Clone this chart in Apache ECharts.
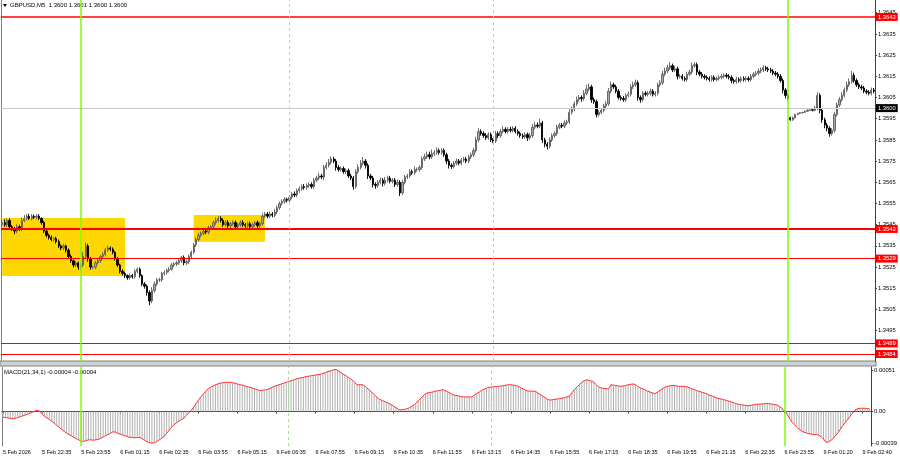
<!DOCTYPE html>
<html><head><meta charset="utf-8">
<script src="https://cdn.jsdelivr.net/npm/echarts@6/dist/echarts.min.js"></script>
<style>html,body{margin:0;padding:0;background:#fff}#c{width:900px;height:460px}</style>
</head><body><div id="c"></div>
<script>
// Prices are stored in pips above 1.3500 (value 46 -> 1.35460)
const BASE = 1.35;
const closes = [
46,45,47,44,43,42,44,43,47,48,
49,48,49,48.5,49,48,46,42,40,39,
38,38.5,37,35,34,35,33,30,28,26,
27,25,26,30,35,29,25,25,27,28,
30,31,33,34,33.5,32,29,26,23,22,
21,20,21,20.5,23,24,21,17,16,13,
9,14,17,19,19,22,22.5,23.5,24,26,
26.5,27,28,29.5,27,27.5,30,32,35.5,38,
40,41,42,41.5,43.5,44,46,47,48,47,
45,46,44.5,45.5,46,44,45,46,45,44.5,
45.5,44,45,46,44.5,45.5,49,50,49,50,
49.5,51,53,55,56,57,56.5,58,59.5,59,
61,62,63,62.5,63.5,64,63,66,67,68,
67.5,72,73,74.5,76,75,72,71,71.5,70,
70.5,68,67,63,70,72,74,75,73,68,
67,64,63.5,65,66,64.5,66,67,65.5,66,
64,65,60,65,67.5,68,70,69.5,71,71,
72,76,77,78,77,78.5,79,80,79,80,
78,75,73,72.5,74,75,74,75.5,76,75,
77,78,80,85,89,88,87,86,87.5,85,
84.5,88,87,89,90,89,90,89.5,90.5,89,
88,87,86.5,87.5,86,87,91,92,91.5,93,
85,83,82,85,87,88,91,92,91.5,93,
93.5,98,99.5,102,104,105,104.5,107,109,110,
104,103,97,98,99,101,102,108,111,110,
108,105,104.5,104,106,106.5,110,111,112,105,
104,107,106.5,107,108,106.5,107,111,112,116,
117.5,119,120,118,118.5,115,115,114,113.5,116,
117,120,120.5,117,116,115,114.5,114,113.5,114.5,
113.5,114,114.5,115,115.5,115,114.5,113,112.5,113.5,
113,114,113.5,114,113.5,115,116,116.5,117.5,118,
119,118.5,118,117.5,116.5,116,115,113,108.5,106,
104.5,94.5,95.5,97,97.5,97.8,98,98.5,99,99.2,
99,100,106,99,94.5,92,90.5,88,89.5,97,
101.5,104,106,108.5,111,112.5,115.5,113,111,110,
109.5,108,107.5,107,108.5,108];
const opens = [
45,46,45,47,44,43,42,44,43,47,
48,49,48,49,48.5,49,48,46,42,40,
39,38,38.5,37,35,34,35,33,30,28,
26,27,25,26,30,35,29,25,25,27,
28,30,31,33,34,33.5,32,29,26,23,
22,21,20,21,20.5,23,24,21,17,16,
13,9,14,17,19,19,22,22.5,23.5,24,
26,26.5,27,28,29.5,27,27.5,30,32,35.5,
38,40,41,42,41.5,43.5,44,46,47,48,
47,45,46,44.5,45.5,46,44,45,46,45,
44.5,45.5,44,45,46,44.5,45.5,49,50,49,
50,49.5,51,53,55,56,57,56.5,58,59.5,
59,61,62,63,62.5,63.5,64,63,66,67,
68,67.5,72,73,74.5,76,75,72,71,71.5,
70,70.5,68,67,63,70,72,74,75,73,
68,67,64,63.5,65,66,64.5,66,67,65.5,
66,64,65,60,65,67.5,68,70,69.5,71,
71,72,76,77,78,77,78.5,79,80,79,
80,78,75,73,72.5,74,75,74,75.5,76,
75,77,78,80,85,89,88,87,86,87.5,
85,84.5,88,87,89,90,89,90,89.5,90.5,
89,88,87,86.5,87.5,86,87,91,92,91.5,
93,85,83,82,85,87,88,91,92,91.5,
93,93.5,98,99.5,102,104,105,104.5,107,109,
110,104,103,97,98,99,101,102,108,111,
110,108,105,104.5,104,106,106.5,110,111,112,
105,104,107,106.5,107,108,106.5,107,111,112,
116,117.5,119,120,118,118.5,115,115,114,113.5,
116,117,120,120.5,117,116,115,114.5,114,113.5,
114.5,113.5,114,114.5,115,115.5,115,114.5,113,112.5,
113.5,113,114,113.5,114,113.5,115,116,116.5,117.5,
118,119,118.5,118,117.5,116.5,116,115,113,108.5,
106,95.5,94.5,95.5,97,97.5,97.8,98,98.5,99,
99.2,99,100,106,99,94.5,92,90.5,88,89.5,
97,101.5,104,106,108.5,111,112.5,115.5,113,111,
110,109.5,108,107.5,107,108.5];
// wick lengths above / below the body, in pips
const upperWicks = [
1,1.5,1,1,0.8,1,1.2,1,1.5,1.5,
1,1.2,1,0.8,1,1,0.5,0.8,1,0.8,
1,0.6,0.8,1,0.7,1,0.6,0.8,1,0.6,
0.8,0.6,1,2,1.5,1,0.8,0.6,1,1,
0.8,1,1,1.2,0.8,0.8,0.6,0.8,0.6,1,
0.8,0.6,1,0.8,1,0.8,0.8,0.6,1,0.8,
1,1.5,1.2,0.8,1,0.8,1,0.8,1,1,
0.8,1,1,0.8,1,1,1,0.8,1,1,
1.2,0.8,1,1,1,0.8,1,1.5,1,1,
1,1,1.2,0.8,1,1,0.8,1,1.2,0.8,
1,1,1,0.8,1,1,1.5,1,1,1.2,
1,1.5,1,1,1,1,0.8,1,1,1.2,
1,1,1,1.2,1,1,1,1,1,1.5,
1,1.2,1.5,1.5,1.2,1,1,1.2,1,1,
1,1,1,1,1.2,1.5,1.5,2,1,1,
1,1,1,1,1.2,1,1.5,1.2,1,1,
1,1.2,1,1.2,1,1,1.2,1,1.5,1,
1,1.2,1.5,1.5,1.5,2,1.2,1.5,1,1,
1,1,1,1,1,1.2,1,1,1,1,
1,1,1.2,1.5,1.5,1,1,1.2,1,1,
1,1.2,1,1.2,1.5,1,1,1.2,1,1,
1,1,1,1,1,1.2,1.5,1.5,1.2,2,
1,1,1,1.2,1,1,1.2,1,1,1.2,
1,1.5,1.2,1.2,1.5,1.2,1,1.5,2,1.5,
1,1,1,1,1,1,1.5,1.5,1.5,1,
1,1,1,1.2,1,1.2,1.2,1.5,1.5,1,
1,1,1,1,1.2,1,1,1,1.2,1.5,
1.5,1.5,1.8,1,1.5,1,1,1,1,1.2,
1.2,1.5,1.2,1,1,1,1,1,1,1,
1,1,1,1,1,1,1,1,1,1.2,
1,1,1,1,1,1,1,1,1.2,1.2,
1.2,1,1,1,1,1,1,1,1,1,
1,0.5,0.5,0.5,0.3,0.3,0.3,0.3,0.3,0.3,
0.5,1,1.5,1,1,1,1,1,1,1.2,
1.2,1.2,1.5,1.2,1.5,1.5,2,1.2,1,1,
1,1,1,1,1.2,1];
const lowerWicks = [
1,1,1.2,1,1,1.5,1,1,1,0.8,
1,0.8,1,0.8,1,0.8,1,1,1,1,
0.8,1,1,1,1,1,1.2,1,1,1.2,
1,1.2,1.5,1,1,1.5,1.2,1,1,0.8,
1,0.8,1,0.8,1,1,1,1,1,1,
1.2,1,1,1,1,1,1,1,1.2,1.5,
2,1,1,1,1,1,1,1,1,0.8,
1,1,1,1,1.2,1,1,1,0.8,1,
1,1,1,1,1,1,0.8,1,1,1,
1,1,1,1.2,1,1,1,1,1.2,1,
1,1.2,1,1,1,1.5,1,1,1,1,
1,1,1,1,1,1,1,1,1,1,
1,1,1,1,1,1,1,1,1,1,
1,1.5,1,1,1,1,1.5,1,1,1,
1,1,1,1.5,1,1,1,1,1.5,1.5,
1,1.5,1.5,1,1,1.5,1,1,1,1,
1.2,1,1.5,1,1,1,1,1,1,1,
1,1,1,1,1.2,1,1,1,1,1,
1,1.5,1.5,1.2,1,1,1,1,1,1,
1,1,1,1,1,1,1,1,1,1,
1,1,1.2,1,1,1,1,1,1,1,
1,1,1,1,1.5,1,1,1,1,1,
1.5,1.5,1.5,1,1,1,1,1,1,1,
1,1,1,1,1,1,1.5,1,1,1,
1.5,1,1.5,1,1,1,1,1,1,1,
1,1,1,1,1,1,1,1,1,1.5,
1.5,1,1,1,1,1,1,1,1,1,
1,1,1,1,1,1.5,1,1,1,1,
1,1,1,1.5,1,1,1,1,1,1,
1,1,1,1,1,1,1,1.2,1,1,
1,1,1,1,1,1,1,1,1,1,
1,1,1,1,1,1,1,1,1.5,1.5,
1,0.5,0.5,0.5,0.3,0.3,0.3,0.3,0.3,0.3,
0.5,0.5,1,1.5,1.5,1.5,1.5,1.5,1,1,
1,1,1,1,1,1,1,1,1,1,
1,1,1,1,1,1];
// MACD(21,34,1) main value per bar, in units of 0.0001
const macd = [
-0.7,-0.75,-0.8,-0.85,-0.9,-0.85,-0.75,-0.65,-0.55,-0.45,
-0.35,-0.25,-0.1,0.05,0.15,0.05,-0.3,-0.6,-0.8,-1.0,
-1.2,-1.45,-1.7,-1.95,-2.2,-2.45,-2.65,-2.85,-3.0,-3.2,
-3.35,-3.5,-3.65,-3.7,-3.6,-3.5,-3.5,-3.55,-3.5,-3.45,
-3.3,-3.15,-3.0,-2.85,-2.7,-2.5,-2.55,-2.7,-2.8,-2.9,
-3.0,-3.1,-3.2,-3.2,-3.25,-3.2,-3.2,-3.35,-3.55,-3.75,
-3.85,-3.9,-3.85,-3.7,-3.5,-3.3,-3.1,-2.7,-2.35,-1.95,
-1.65,-1.4,-1.2,-1.0,-0.85,-0.5,-0.2,0.1,0.5,0.95,
1.4,1.8,2.15,2.5,2.8,3.0,3.15,3.3,3.4,3.5,
3.55,3.6,3.6,3.6,3.55,3.5,3.4,3.3,3.25,3.15,
3.05,3.0,2.9,2.8,2.7,2.6,2.6,2.65,2.7,2.8,
2.95,3.1,3.2,3.3,3.4,3.5,3.6,3.7,3.8,3.9,
4.0,4.1,4.15,4.2,4.3,4.35,4.4,4.45,4.5,4.55,
4.6,4.7,4.8,4.9,5.0,5.1,5.2,5.1,4.9,4.7,
4.5,4.3,4.1,3.9,3.6,3.3,3.3,3.3,3.2,2.9,
2.65,2.4,2.1,1.8,1.5,1.4,1.25,1.15,1.0,0.85,
0.65,0.45,0.25,0.2,0.25,0.3,0.4,0.55,0.75,1.0,
1.3,1.6,1.9,2.2,2.3,2.35,2.4,2.5,2.55,2.6,
2.7,2.6,2.45,2.3,2.1,2.0,1.95,1.9,1.8,1.8,
1.8,1.8,1.8,2.0,2.2,2.4,2.6,2.75,2.85,3.0,
3.0,3.05,3.1,3.1,3.15,3.2,3.25,3.3,3.3,3.25,
3.2,3.1,2.95,2.8,2.6,2.55,2.5,2.5,2.5,2.3,
2.1,1.9,1.7,1.5,1.4,1.45,1.5,1.55,1.6,1.65,
1.7,1.8,1.9,2.3,2.7,3.0,3.3,3.6,3.8,3.9,
3.85,3.75,3.6,3.3,3.0,2.9,2.85,2.8,2.8,3.3,
3.25,3.2,3.15,3.1,3.15,3.2,3.3,3.35,3.4,3.3,
3.1,2.9,2.8,2.65,2.5,2.4,2.3,2.2,2.4,2.6,
2.8,3.0,3.1,3.15,3.2,3.2,3.15,3.1,3.1,3.1,
3.05,2.95,2.8,2.7,2.6,2.5,2.4,2.3,2.2,2.05,
1.95,1.85,1.7,1.6,1.55,1.45,1.4,1.3,1.2,1.1,
1.0,0.9,0.85,0.8,0.75,0.7,0.75,0.8,0.85,0.9,
0.9,0.95,0.95,1.0,0.95,0.9,0.85,0.8,0.6,0.4,
0.1,-0.3,-0.8,-1.3,-1.6,-1.9,-2.2,-2.4,-2.55,-2.65,
-2.75,-2.8,-2.85,-2.85,-2.9,-3.1,-3.4,-3.8,-3.75,-3.6,
-3.3,-2.95,-2.6,-2.15,-1.7,-1.3,-0.95,-0.55,-0.2,0.2,
0.35,0.4,0.4,0.4,0.35,0.3];
// time labels, one every 16 bars
const timeLabels = ['5 Feb 2026','5 Feb 22:35','5 Feb 23:55','6 Feb 01:15','6 Feb 02:35','6 Feb 03:55','6 Feb 05:15','6 Feb 06:35','6 Feb 07:55','6 Feb 09:15','6 Feb 10:35','6 Feb 11:55','6 Feb 13:15','6 Feb 14:35','6 Feb 15:55','6 Feb 17:15','6 Feb 18:35','6 Feb 19:55','6 Feb 21:15','6 Feb 22:35','6 Feb 23:55','9 Feb 01:20','9 Feb 02:40'];
const LABEL_STEP = 16;
const priceTicks = [1.3495,1.3505,1.3515,1.3525,1.3535,1.3545,1.3555,1.3565,1.3575,1.3585,1.3595,1.3605,1.3615,1.3625,1.3635,1.3645];
const macdTicks = [-0.00039, 0, 0.00051];
const levels = [1.3643, 1.3543, 1.3529, 1.3489, 1.3484];
const levelWidths = [1.5, 2, 1, 1, 1];
const bidPrice = 1.3600;
const daySeparators = [32, 320];
const sessionMarks = [117, 200];
// highlighted zones: bar range and price range (pips above 1.3500)
const zones = [{from: 0, to: 50, top: 48.2, bottom: 20.8}, {from: 78, to: 107, top: 49.6, bottom: 36.9}];
const titleText = 'GBPUSD,M5  1.3600 1.3601 1.3600 1.3600';
const macdTitle = 'MACD(21,34,1) -0.00004 -0.00004';

const px = v => +(BASE + v / 10000).toFixed(5);
const cats = closes.map((_, i) => String(i));
const candles = closes.map((c, i) => {
  const o = opens[i];
  return [px(o), px(c), px(Math.min(o, c) - lowerWicks[i]), px(Math.max(o, c) + upperWicks[i])];
});
const macdVals = macd.map(v => +(v / 10000).toFixed(6));
const FONT = 'Liberation Sans';

const vLines = [].concat(
  daySeparators.map(i => ({xAxis: String(i), lineStyle: {color: '#7cfc00', width: 1.5, type: 'solid'}})),
  sessionMarks.map(i => ({xAxis: String(i), lineStyle: {color: '#a8e878', width: 1, type: [3, 3]}}))
);
const tagLabel = (bg) => ({show: true, position: 'end', distance: 1, formatter: p => Number(p.value).toFixed(4),
  backgroundColor: bg, color: '#fff', fontFamily: FONT, fontSize: 5.8, padding: [1, 2]});

const chart = echarts.init(document.getElementById('c'), null, {renderer: 'canvas'});
chart.setOption({
  animation: false,
  backgroundColor: '#fff',
  grid: [
    {left: 1, top: 0, width: 874, height: 361},
    {left: 1, top: 367, width: 874, height: 79}
  ],
  xAxis: [
    {type: 'category', gridIndex: 0, data: cats, boundaryGap: true,
     axisLine: {show: false}, axisTick: {show: false}, axisLabel: {show: false}, splitLine: {show: false}},
    {type: 'category', gridIndex: 1, data: cats, boundaryGap: true, position: 'bottom',
     axisLine: {show: true, lineStyle: {color: '#404040', width: 1}},
     axisTick: {show: true, alignWithLabel: true, length: 2, lineStyle: {color: '#404040'},
                interval: i => i % LABEL_STEP === 0},
     axisLabel: {show: true, interval: i => i % LABEL_STEP === 0, align: 'left', margin: 3,
                 fontFamily: FONT, fontSize: 5.5, color: '#000', hideOverlap: false,
                 formatter: (v, i) => timeLabels[i / LABEL_STEP] || ''},
     splitLine: {show: false}}
  ],
  yAxis: [
    {type: 'value', gridIndex: 0, position: 'right', min: 1.34807, max: 1.36510,
     axisLine: {show: true, lineStyle: {color: '#404040'}},
     axisTick: {show: true, length: 2, customValues: priceTicks, lineStyle: {color: '#404040'}},
     axisLabel: {show: true, customValues: priceTicks, margin: 3, fontFamily: FONT, fontSize: 5.8, color: '#000',
                 formatter: v => v.toFixed(4)},
     splitLine: {show: false}},
    {type: 'value', gridIndex: 1, position: 'right', min: -0.000426, max: 0.000549,
     axisLine: {show: true, lineStyle: {color: '#404040'}},
     axisTick: {show: true, length: 2, customValues: macdTicks, lineStyle: {color: '#404040'}},
     axisLabel: {show: true, customValues: macdTicks, margin: 3, fontFamily: FONT, fontSize: 5.8, color: '#000',
                 formatter: v => v === 0 ? '0.00' : v.toFixed(5)},
     splitLine: {show: false}},
    {type: 'value', gridIndex: 0, position: 'left', min: 0, max: 1,
     axisLine: {show: true, lineStyle: {color: '#808080'}}, axisTick: {show: false}, axisLabel: {show: false}, splitLine: {show: false}},
    {type: 'value', gridIndex: 1, position: 'left', min: 0, max: 1,
     axisLine: {show: true, lineStyle: {color: '#808080'}}, axisTick: {show: false}, axisLabel: {show: false}, splitLine: {show: false}}
  ],
  series: [
    {type: 'candlestick', xAxisIndex: 0, yAxisIndex: 0, data: candles, barWidth: 1.8,
     itemStyle: {color: '#a8a8a8', color0: '#000', borderColor: '#5e5e5e', borderColor0: '#000', borderWidth: 0.9},
     markArea: {silent: true, itemStyle: {color: '#ffd700'},
       data: zones.map(z => [{xAxis: String(z.from), yAxis: px(z.top)}, {xAxis: String(z.to), yAxis: px(z.bottom)}])},
     markLine: {silent: true, symbol: 'none', animation: false, precision: 5,
       data: [].concat(
         [{yAxis: bidPrice, lineStyle: {color: '#c8c8c8', width: 1, type: 'solid'}, label: tagLabel('#000')}],
         levels.map((v, k) => ({yAxis: v, lineStyle: {color: '#ff0000', width: levelWidths[k], type: 'solid'},
           label: tagLabel('#ff0000')})),
         vLines.map(d => Object.assign({label: {show: false}}, d))
       )}
    },
    {type: 'bar', xAxisIndex: 1, yAxisIndex: 1, data: macdVals, barWidth: 1,
     itemStyle: {color: '#b0b0b0'}},
    {type: 'line', xAxisIndex: 1, yAxisIndex: 1, data: macdVals, symbol: 'none',
     lineStyle: {color: '#ff3030', width: 1},
     markLine: {silent: true, symbol: 'none', animation: false,
       data: vLines.map(d => Object.assign({label: {show: false}}, d))}}
  ],
  graphic: [
    {type: 'polygon', shape: {points: [[3, 4], [7, 4], [5, 7]]}, style: {fill: '#000'}},
    {type: 'text', left: 10, top: 2, style: {text: titleText, fontFamily: FONT, fontSize: 6, fill: '#000'}},
    {type: 'rect', shape: {x: 0, y: 361, width: 876, height: 5}, style: {fill: '#d0d0d0', stroke: '#808080', lineWidth: 1}},
    {type: 'text', left: 4, top: 369, style: {text: macdTitle, fontFamily: FONT, fontSize: 6, fill: '#000'}}
  ]
});
</script></body></html>
